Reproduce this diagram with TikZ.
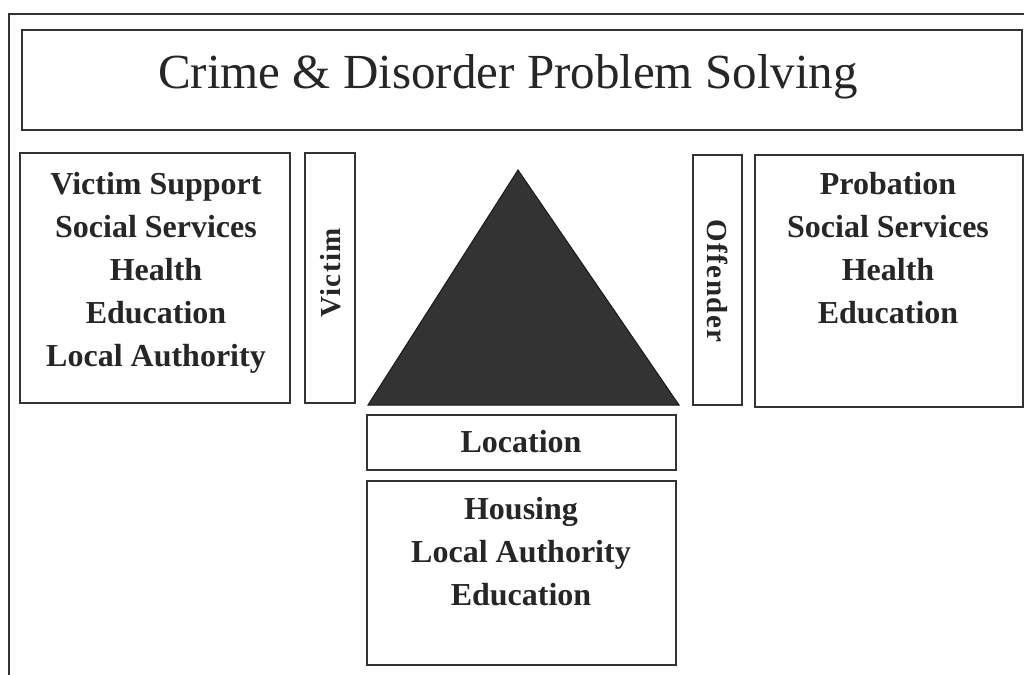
\documentclass[tikz,border=0pt]{standalone}
\usepackage{fontspec}
\setmainfont{Liberation Serif}
\begin{document}
\begin{tikzpicture}[x=1pt,y=-1pt,
  frame/.style={draw=black!80,line width=2.6pt},
  box/.style={draw=black!80,line width=1.8pt,rectangle,inner sep=0pt},
  boxtext/.style={text=black!85,align=center,inner sep=0pt,
    font=\fontsize{32}{43}\selectfont\bfseries},
  sidetext/.style={text=black!85,inner sep=0pt,
    font=\fontsize{29}{32}\selectfont\bfseries\addfontfeatures{LetterSpace=5}},
  titletext/.style={text=black!85,inner sep=0pt,
    font=\fontsize{49}{56}\selectfont}]
  \useasboundingbox (0,0) rectangle (1024,674);
  \fill[white] (0,0) rectangle (1024,674);

  % outer page frame (open to the right and bottom)
  \coordinate (fbl) at (9,676);
  \coordinate (ftl) at (9,14);
  \coordinate (ftr) at (1026,14);
  \draw[frame] (fbl) -- (ftl) -- (ftr);

  % title
  \node[box,minimum width=1000pt,minimum height=100pt] (title) at (522,80) {};
  \node[titletext,anchor=base] (titlet) at (508,89) {Crime \& Disorder Problem Solving};

  % victim side
  \node[box,minimum width=270pt,minimum height=250pt] (vbox) at (155,278) {};
  \node[boxtext,anchor=north] (vtext) at (156,172)
    {Victim Support\\Social Services\\Health\\Education\\Local Authority};
  \node[box,minimum width=50pt,minimum height=250pt] (victim) at (330,278) {};
  \node[sidetext,rotate=90] (victimt) at (331,273) {Victim};

  % offender side
  \node[box,minimum width=49pt,minimum height=250pt] (offender) at (717.5,280) {};
  \node[sidetext,rotate=-90] (offendert) at (718,281) {Offender};
  \node[box,minimum width=268pt,minimum height=252pt] (obox) at (889,281) {};
  \node[boxtext,anchor=north] (otext) at (888,172)
    {Probation\\Social Services\\Health\\Education};

  % problem triangle
  \coordinate (apex) at (518,170);
  \coordinate (bl) at (368,405);
  \coordinate (br) at (679,405);
  \filldraw[fill=black!80,draw=black!90,line width=1pt,line join=miter] (apex) -- (br) -- (bl) -- cycle;

  % location
  \node[box,minimum width=309pt,minimum height=55pt] (loc) at (521.5,442.5) {};
  \node[boxtext,anchor=base] (loct) at (521,452) {Location};
  \node[box,minimum width=309pt,minimum height=184pt] (lbox) at (521.5,573) {};
  \node[boxtext,anchor=north] (ltext) at (521,497)
    {Housing\\Local Authority\\Education};
\end{tikzpicture}
\end{document}
